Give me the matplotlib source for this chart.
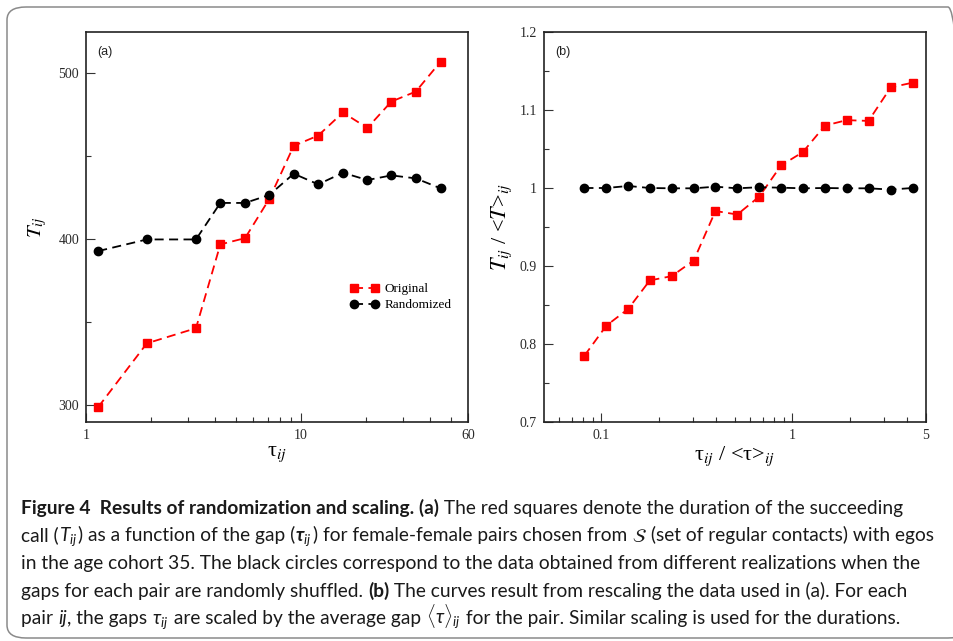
import matplotlib
matplotlib.use("Agg")
import matplotlib.pyplot as plt
from matplotlib.patches import FancyBboxPatch
from matplotlib.ticker import FixedLocator, NullFormatter

# panel (a): gap tau_ij vs duration T_ij
gap_a = [1.14, 1.92, 3.25, 4.22, 5.5, 7.13, 9.27, 12.05, 15.7, 20.4, 26.4, 34.3, 44.7]
orig_a = [299, 337.4, 346.5, 397, 400.8, 424.4, 456.4, 462.6, 476.5, 467.2, 483.1, 489.1, 507.1]
rand_a = [393, 400, 400, 422, 422, 426.8, 439.6, 433.2, 440.2, 435.8, 438.6, 436.8, 430.8]

# panel (b): rescaled
gap_b = [0.0814, 0.106, 0.138, 0.179, 0.233, 0.304, 0.395, 0.514, 0.670, 0.872,
         1.133, 1.479, 1.923, 2.50, 3.27, 4.25]
orig_b = [0.785, 0.8235, 0.845, 0.8815, 0.887, 0.907, 0.9705, 0.966, 0.989, 1.029,
          1.046, 1.080, 1.087, 1.086, 1.129, 1.135]
rand_b = [1.0, 1.0, 1.0026, 1.0, 0.9996, 0.9996, 1.0017, 0.9996, 1.001, 1.0004,
          0.9996, 1.0, 0.9996, 0.9996, 0.998, 1.0]

SERIF = "Liberation Serif"
SANS = "Liberation Sans"
CAP_FONT = "Lato"

plt.rcParams["mathtext.fontset"] = "stix"
plt.rcParams["mathtext.rm"] = CAP_FONT
plt.rcParams["mathtext.it"] = CAP_FONT + ":italic"
plt.rcParams["mathtext.bf"] = CAP_FONT + ":bold:italic"

W, H = 954, 641
fig = plt.figure(figsize=(W / 100, H / 100), dpi=100)


def px_axes(x0, y0, x1, y1):
    return fig.add_axes([x0 / W, 1 - y1 / H, (x1 - x0) / W, (y1 - y0) / H])


def style_axes(ax):
    ax.tick_params(which="both", direction="in", top=False, right=False,
                   labelsize=10, labelcolor="#2a2a2a", color="#333333", pad=5)
    ax.tick_params(which="major", length=6.5, width=0.8)
    ax.tick_params(which="minor", length=3.5, width=0.8)
    for sp in ax.spines.values():
        sp.set_linewidth(1.2)
        sp.set_color("#222222")
    for lab in ax.get_xticklabels() + ax.get_yticklabels():
        lab.set_family(SERIF)


def draw_series(ax, x, y_o, y_r):
    ax.plot(x, y_o, color="red", ls=(0, (5, 3)), lw=1.3, marker="s", ms=5.5,
            label="Original")
    ax.plot(x, y_r, color="black", ls=(0, (5, 3)), lw=1.3, marker="o", ms=6,
            label="Randomized")


# ---- panel (a)
ax1 = px_axes(86, 32, 468, 422)
draw_series(ax1, gap_a, orig_a, rand_a)
ax1.set_xscale("log")
ax1.set_xlim(1, 60)
ax1.set_ylim(290, 525)
ax1.xaxis.set_major_locator(FixedLocator([1, 10, 60]))
ax1.set_xticklabels(["1", "10", "60"])
ax1.xaxis.set_minor_locator(FixedLocator([2, 3, 4, 5, 6, 7, 8, 9, 20, 30, 40, 50]))
ax1.xaxis.set_minor_formatter(NullFormatter())
ax1.yaxis.set_major_locator(FixedLocator([300, 400, 500]))
ax1.yaxis.set_minor_locator(FixedLocator([350, 450]))
style_axes(ax1)
ax1.set_xlabel("τ$_{ij}$", family=SERIF, fontsize=16, labelpad=2)
ax1.set_ylabel(r"$T_{ij}$", fontsize=15, labelpad=7)
ax1.text(0.03, 0.965, "(a)", transform=ax1.transAxes, family=SANS, fontsize=9,
         va="top", color="#222222")
leg = ax1.legend(loc="center left", bbox_to_anchor=(0.66, 0.32), frameon=False,
                 numpoints=2, handlelength=2.2, handletextpad=0.4, labelspacing=0.3,
                 prop={"family": SERIF, "size": 9.5})

# ---- panel (b)
ax2 = px_axes(544, 32, 926, 422)
draw_series(ax2, gap_b, orig_b, rand_b)
ax2.set_xscale("log")
ax2.set_xlim(0.05, 5)
ax2.set_ylim(0.7, 1.2)
ax2.xaxis.set_major_locator(FixedLocator([0.1, 1, 5]))
ax2.set_xticklabels(["0.1", "1", "5"])
ax2.xaxis.set_minor_locator(FixedLocator([0.06, 0.07, 0.08, 0.09, 0.2, 0.3, 0.4, 0.5,
                                          0.6, 0.7, 0.8, 0.9, 2, 3, 4]))
ax2.xaxis.set_minor_formatter(NullFormatter())
ax2.yaxis.set_major_locator(FixedLocator([0.7, 0.8, 0.9, 1.0, 1.1, 1.2]))
ax2.set_yticklabels(["0.7", "0.8", "0.9", "1", "1.1", "1.2"])
ax2.yaxis.set_minor_locator(FixedLocator([0.75, 0.85, 0.95, 1.05, 1.15]))
style_axes(ax2)
ax2.set_xlabel("τ$_{ij}$ / <τ>$_{ij}$", family=SERIF, fontsize=16, labelpad=2)
ax2.set_ylabel(r"$T_{ij}$ / <$T$>$_{ij}$", family=SERIF, fontsize=16, labelpad=4)
ax2.text(0.03, 0.965, "(b)", transform=ax2.transAxes, family=SANS, fontsize=9,
         va="top", color="#222222")

# ---- frame around the figure
frame = FancyBboxPatch((7 / W, 3 / H), 960 / W, 631 / H, transform=fig.transFigure,
                       boxstyle="round,pad=0,rounding_size=0.02", fill=False,
                       ec="#8a8a8a", lw=1.1, clip_on=False)
fig.patches.append(frame)

# ---- caption
B, N, I, M, MS = "bold", "normal", "italic", "math", "mathstix"
caption = [
    [("Figure 4  Results of randomization and scaling. (a)", B),
     (" The red squares denote the duration of the succeeding", N)],
    [("call (", N), (r"$T_{ij}$", M), (") as a function of the gap (", N),
     (r"$\mathbf{\tau}_{ij}$", M), (") for female-female pairs chosen from ", N),
     (r"$\mathcal{S}$", MS), (" (set of regular contacts) with egos", N)],
    [("in the age cohort 35. The black circles correspond to the data obtained "
      "from different realizations when the", N)],
    [("gaps for each pair are randomly shuffled. ", N), ("(b)", B),
     (" The curves result from rescaling the data used in (a). For each", N)],
    [("pair ", N), ("ij", I), (", the gaps ", N), (r"$\tau_{ij}$", M),
     (" are scaled by the average gap ", N), (r"$\langle\tau\rangle_{ij}$", M),
     (" for the pair. Similar scaling is used for the durations.", N)],
]
baselines = [514, 541.5, 569, 596.5, 624]
cap_x0 = 21
cap_size = 12.5

renderer = fig.canvas.get_renderer()


def seg_text(x, y, s, kind, size):
    kw = dict(family=CAP_FONT, fontsize=size, va="baseline", ha="left",
              color="#1a1a1a", math_fontfamily="custom")
    if kind == B:
        kw["fontweight"] = "bold"
    if kind == I:
        kw["fontstyle"] = "italic"
    if kind == MS:
        kw["math_fontfamily"] = "stix"
    return fig.text(x / W, 1 - y / H, s, **kw)


def seg_width(s, kind, size):
    t1 = seg_text(0, 0, "|" + s + "|", kind, size)
    t2 = seg_text(0, 0, "||", kind, size)
    w = t1.get_window_extent(renderer).width - t2.get_window_extent(renderer).width
    t1.remove()
    t2.remove()
    # a little air after math pieces so slanted glyphs don't touch the next word
    if kind in (M, MS):
        w += 2
    return w


# fit the caption size so the widest line stays inside the frame
widest = max(sum(seg_width(s, k, cap_size) for s, k in parts) for parts in caption)
cap_size *= 922 / widest

for parts, yb in zip(caption, baselines):
    x = cap_x0
    for s, k in parts:
        seg_text(x, yb, s, k, cap_size)
        x += seg_width(s, k, cap_size)

fig.savefig("out.png", dpi=100)
